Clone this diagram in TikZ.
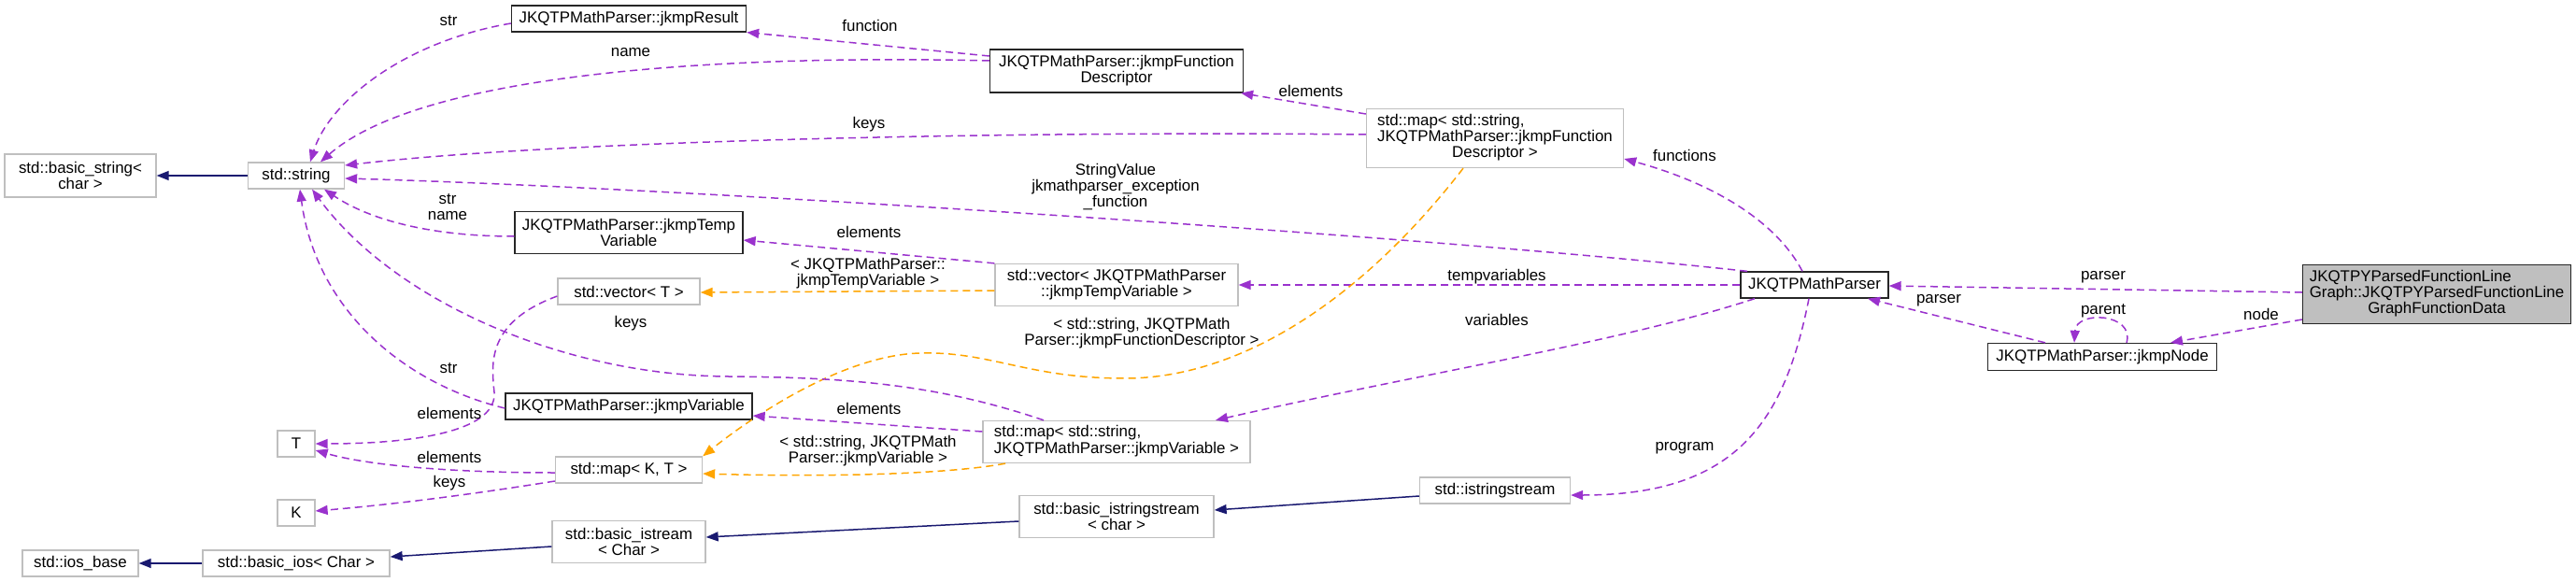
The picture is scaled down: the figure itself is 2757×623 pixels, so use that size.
\documentclass[tikz,border=0pt]{standalone}
\usepackage{fontspec}
\setmainfont{Liberation Sans}
\usetikzlibrary{arrows.meta,calc}
\definecolor{pur}{HTML}{9A32CD}
\definecolor{org}{HTML}{FFA500}
\definecolor{nav}{HTML}{191970}
\definecolor{bgray}{HTML}{BFBFBF}
\newcommand{\dfont}{\fontsize{16.9}{17}\selectfont}
\tikzset{
  box/.style={rectangle, inner sep=0pt, line width=1.3pt, align=center, font=\dfont},
  gbox/.style={box, draw=bgray},
  kbox/.style={box, draw=black!85},
  lbl/.style={inner sep=0pt, align=center, font=\dfont},
  tip/.style={-{Triangle[length=13pt,width=10pt]}},
  pe/.style={tip, draw=pur, dash pattern=on 8pt off 5pt, line width=1.5pt},
  oe/.style={tip, draw=org, dash pattern=on 8pt off 5pt, line width=1.5pt},
  ie/.style={tip, draw=nav, line width=1.5pt},
}
\begin{document}
\begin{tikzpicture}[x=1pt,y=-1pt]
\useasboundingbox (0,0) rectangle (2757,623);
% nodes
\node[gbox, minimum width=162, minimum height=46] (bstr) at (86,188) {std::basic\_string<\\char >};
\node[gbox, minimum width=103, minimum height=28] (str) at (317,188) {std::string};
\node[kbox, minimum width=251, minimum height=28] (res) at (673,20) {JKQTPMathParser::jkmpResult};
\node[kbox, minimum width=271, minimum height=46] (fd) at (1195,76) {JKQTPMathParser::jkmpFunction\\Descriptor};
\node[kbox, minimum width=244, minimum height=45] (tv) at (673,249) {JKQTPMathParser::jkmpTemp\\Variable};
\node[gbox, minimum width=152, minimum height=28] (vecT) at (673,312) {std::vector< T >};
\node[kbox, minimum width=264, minimum height=28] (var) at (673,435) {JKQTPMathParser::jkmpVariable};
\node[gbox, minimum width=40, minimum height=28] (T) at (317,475) {T};
\node[gbox, minimum width=157, minimum height=28] (mapKT) at (673,503) {std::map< K, T >};
\node[gbox, minimum width=40, minimum height=28] (K) at (317,549) {K};
\node[gbox, minimum width=164, minimum height=45] (bis) at (673,580) {std::basic\_istream\\< Char >};
\node[gbox, minimum width=200, minimum height=28] (bios) at (317,603) {std::basic\_ios< Char >};
\node[gbox, minimum width=124, minimum height=28] (iosb) at (86,603) {std::ios\_base};
\node[gbox, minimum width=275, minimum height=63] (mapFD) at (1600,148) {\begin{tabular}{@{}c@{}}\multicolumn{1}{@{}l@{}}{std::map< std::string,}\\ JKQTPMathParser::jkmpFunction\\Descriptor >\end{tabular}};
\node[gbox, minimum width=260, minimum height=45] (vecTV) at (1195,305) {std::vector< JKQTPMathParser\\::jkmpTempVariable >};
\node[gbox, minimum width=286, minimum height=45] (mapV) at (1195,473) {\begin{tabular}{@{}c@{}}\multicolumn{1}{@{}l@{}}{std::map< std::string,}\\ JKQTPMathParser::jkmpVariable >\end{tabular}};
\node[gbox, minimum width=208, minimum height=45] (biss) at (1195,553) {std::basic\_istringstream\\< char >};
\node[kbox, minimum width=158, minimum height=28] (mp) at (1942,305) {JKQTPMathParser};
\node[gbox, minimum width=161, minimum height=28] (iss) at (1600,525) {std::istringstream};
\node[kbox, fill=bgray, minimum width=287, minimum height=63] (main) at (2608,315) {\begin{tabular}{@{}c@{}}\multicolumn{1}{@{}l@{}}{JKQTPYParsedFunctionLine}\\Graph::JKQTPYParsedFunctionLine\\GraphFunctionData\end{tabular}};
\node[kbox, minimum width=245, minimum height=29] (node) at (2250,382) {JKQTPMathParser::jkmpNode};
% edges
\draw[ie] (str.west) -- (bstr.east);
\draw[pe] ($(res.west)+(0,5)$) .. controls (430,45) and (352,110) .. ($(str.north)+(15,0)$);
\draw[pe] ($(fd.west)+(0,-11)$) .. controls (760,58) and (450,80) .. ($(str.north)+(26,0)$);
\draw[pe] ($(fd.west)+(0,-16)$) -- (res.south east);
\draw[pe] ($(mapFD.west)+(0,-26)$) -- ($(fd.south east)+(-3,0)$);
\draw[pe] ($(mapFD.west)+(0,-4)$) .. controls (1100,140) and (600,150) .. ($(str.east)+(0,-11)$);
\draw[pe] ($(mp.north)+(-72,0)$) .. controls (1500,250) and (700,200) .. ($(str.east)+(0,3)$);
\draw[pe] ($(tv.west)+(0,4)$) .. controls (460,253) and (395,235) .. ($(str.south)+(30,0)$);
\draw[pe] (vecTV.north west) -- ($(tv.east)+(0,8)$);
\draw[oe] ($(vecTV.west)+(0,6)$) -- ($(vecT.east)+(0,1)$);
\draw[pe] (mp.west) -- (vecTV.east);
\draw[pe] ($(mp.north)+(-13,0)$) .. controls (1900,235) and (1830,195) .. ($(mapFD.east)+(0,22)$);
\draw[oe] ($(mapFD.south)+(-34,0)$) .. controls (1450,330) and (1320,405) .. (1204,405) .. controls (1100,405) and (1060,376) .. (985,378) .. controls (900,380) and (800,450) .. (mapKT.north east);
\draw[pe] ($(mapV.north)+(-78,0)$) .. controls (1000,410) and (900,404) .. (780,403) .. controls (600,402) and (420,320) .. ($(str.south)+(17,0)$);
\draw[pe] ($(var.west)+(0,2)$) .. controls (430,410) and (338,330) .. ($(str.south)+(4,0)$);
\draw[pe] ($(vecT.west)+(0,5)$) .. controls (520,345) and (526,390) .. (529,420) .. controls (532,465) and (430,475) .. (T.east);
\draw[pe] ($(mapV.west)+(0,-11)$) -- ($(var.east)+(0,10)$);
\draw[oe] ($(mapV.south)+(-119,0)$) .. controls (1000,510) and (850,510) .. ($(mapKT.east)+(0,4)$);
\draw[pe] ($(mapKT.west)+(0,3)$) .. controls (500,506) and (400,500) .. ($(T.east)+(0,7)$);
\draw[pe] ($(mapKT.west)+(0,12)$) .. controls (500,530) and (420,540) .. ($(K.east)+(0,-2)$);
\draw[pe] ($(mp.south)+(-64,0)$) .. controls (1740,365) and (1520,400) .. ($(mapV.north)+(106,0)$);
\draw[pe] ($(mp.south)+(-6,0)$) .. controls (1910,450) and (1860,530) .. ($(iss.east)+(0,5)$);
\draw[ie] ($(iss.west)+(0,6)$) -- ($(biss.east)+(0,-7)$);
\draw[ie] ($(biss.west)+(0,5)$) -- ($(bis.east)+(0,-5)$);
\draw[ie] ($(bis.west)+(0,5)$) -- ($(bios.east)+(0,-7)$);
\draw[ie] (bios.west) -- (iosb.east);
\draw[pe] ($(main.west)+(0,-2)$) -- ($(mp.east)+(0,1)$);
\draw[pe] ($(main.west)+(0,27)$) -- ($(node.north)+(73,0)$);
\draw[pe] ($(node.north)+(-61,0)$) -- ($(mp.south)+(57,0)$);
\draw[pe] ($(node.north)+(26,0)$) .. controls (2285,335) and (2222,332) .. ($(node.north)+(-30,0)$);
% labels
\node[lbl] (l1) at (480,22) {str};
\node[lbl] (l2) at (675,56) {name};
\node[lbl] (l3) at (931,27) {function};
\node[lbl] (l4) at (1403,97) {elements};
\node[lbl] (l5) at (930,133) {keys};
\node[lbl] (l6) at (1194,200) {StringValue\\jkmathparser\_exception\\\_function};
\node[lbl] (l7) at (479,222) {str\\name};
\node[lbl] (l8) at (930,248) {elements};
\node[lbl] (l9) at (929,293) {< JKQTPMathParser::\\jkmpTempVariable >};
\node[lbl] (l10) at (1602,296) {tempvariables};
\node[lbl] (l11) at (1803,166) {functions};
\node[lbl] (l12) at (1222,357) {< std::string, JKQTPMath\\Parser::jkmpFunctionDescriptor >};
\node[lbl] (l13) at (675,346) {keys};
\node[lbl] (l14) at (1602,342) {variables};
\node[lbl] (l15) at (480,394) {str};
\node[lbl] (l16) at (481,442) {elements};
\node[lbl] (l17) at (930,437) {elements};
\node[lbl] (l18) at (929,483) {< std::string, JKQTPMath\\Parser::jkmpVariable >};
\node[lbl] (l19) at (481,489) {elements};
\node[lbl] (l20) at (481,517) {keys};
\node[lbl] (l21) at (1803,480) {program};
\node[lbl] (l22) at (2251,297) {parser};
\node[lbl] (l23) at (2075,322) {parser};
\node[lbl] (l24) at (2251,333) {parent};
\node[lbl] (l25) at (2420,336) {node};
\end{tikzpicture}
\end{document}
